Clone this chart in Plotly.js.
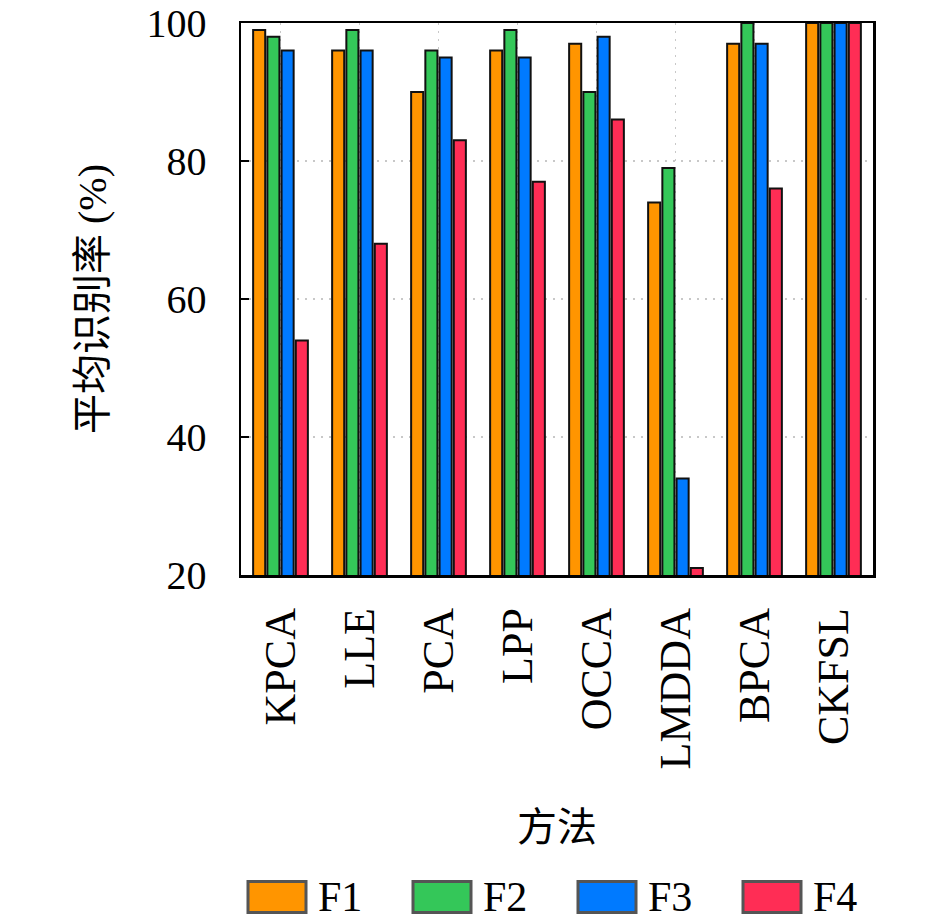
<!DOCTYPE html>
<html>
<head>
<meta charset="utf-8">
<script src="https://cdn.plot.ly/plotly-3.0.1.min.js"></script>
<style>
  html, body { margin: 0; padding: 0; background: white; }
  #chart { width: 945px; height: 922px; }
</style>
</head>
<body>
<div id="chart"></div>
<script>
  const methods = ['KPCA', 'LLE', 'PCA', 'LPP', 'OCCA', 'LMDDA', 'BPCA', 'CKFSL'];
  const seriesNames = ['F1', 'F2', 'F3', 'F4'];
  const f1 = [99, 96, 90, 96, 97, 74, 97, 100];
  const f2 = [98, 99, 96, 99, 90, 79, 100, 100];
  const f3 = [96, 96, 95, 95, 98, 34, 97, 100];
  const f4 = [54, 68, 83, 77, 86, 21, 76, 100];
  const yTicks = [20, 40, 60, 80, 100];

  const seriesValues = [f1, f2, f3, f4];
  const colors = ['#FF9500', '#34C759', '#007AFF', '#FF2D55'];

  const serif = '"Liberation Serif", "Noto Sans CJK SC", serif';

  // plot area in pixels
  const W = 945, H = 922;
  const m = { l: 241, r: 72, t: 23, b: 347 };
  const pw = W - m.l - m.r, ph = H - m.t - m.b;
  const toPaperX = px => (px - m.l) / pw;
  const toPaperY = py => (H - m.b - py) / ph;

  const traces = seriesNames.map((name, i) => ({
    type: 'bar',
    name: name,
    x: methods,
    y: seriesValues[i],
    marker: {
      color: colors[i],
      line: { color: '#111', width: 2 }
    },
    showlegend: false,
    hoverinfo: 'x+y+name'
  }));

  // hand-made legend: wide swatches like the original
  const shapes = [];
  const annotations = [];
  const legStart = 248, legStep = 165, swW = 58, swH = 31, legY = 897;
  seriesNames.forEach((name, i) => {
    const x0 = legStart + i * legStep;
    shapes.push({
      type: 'rect', xref: 'paper', yref: 'paper',
      x0: toPaperX(x0), x1: toPaperX(x0 + swW),
      y0: toPaperY(legY + swH / 2), y1: toPaperY(legY - swH / 2),
      fillcolor: colors[i],
      line: { color: '#555', width: 3 }
    });
    annotations.push({
      xref: 'paper', yref: 'paper',
      x: toPaperX(x0 + swW + 10), y: toPaperY(legY),
      xanchor: 'left', yanchor: 'middle',
      text: name, showarrow: false,
      font: { family: serif, size: 42, color: 'black' }
    });
  });

  const layout = {
    width: W, height: H, autosize: false,
    margin: m,
    paper_bgcolor: 'white',
    plot_bgcolor: 'white',
    barmode: 'group',
    bargap: 0.28,
    bargroupgap: 0.15,
    font: { family: serif, size: 40, color: 'black' },
    xaxis: {
      type: 'category',
      range: [-0.5, methods.length - 0.5],
      tickangle: -90,
      ticks: '',
      ticklabelstandoff: 13,
      tickfont: { family: serif, size: 44 },
      showgrid: true,
      gridcolor: '#c8c8c8',
      gridwidth: 1.5,
      griddash: '2px,6px',
      showline: true, linecolor: 'black', linewidth: 2.5, mirror: true,
      zeroline: false,
      automargin: false,
      title: { text: '方法', font: { family: serif, size: 40 }, standoff: 45 }
    },
    yaxis: {
      range: [20, 100],
      tickvals: yTicks,
      ticktext: yTicks.map(String),
      ticks: 'inside', ticklen: 8, tickwidth: 2, tickcolor: 'black',
      ticklabelstandoff: 24,
      tickfont: { family: serif, size: 40 },
      showgrid: true,
      gridcolor: '#c8c8c8',
      gridwidth: 1.5,
      griddash: '2px,6px',
      showline: true, linecolor: 'black', linewidth: 2.5, mirror: true,
      zeroline: false,
      automargin: false,
      title: { text: '平均识别率 (%)', font: { family: serif, size: 40 }, standoff: 28 }
    },
    shapes: shapes,
    annotations: annotations
  };

  Plotly.newPlot('chart', traces, layout, { staticPlot: true });
</script>
</body>
</html>
